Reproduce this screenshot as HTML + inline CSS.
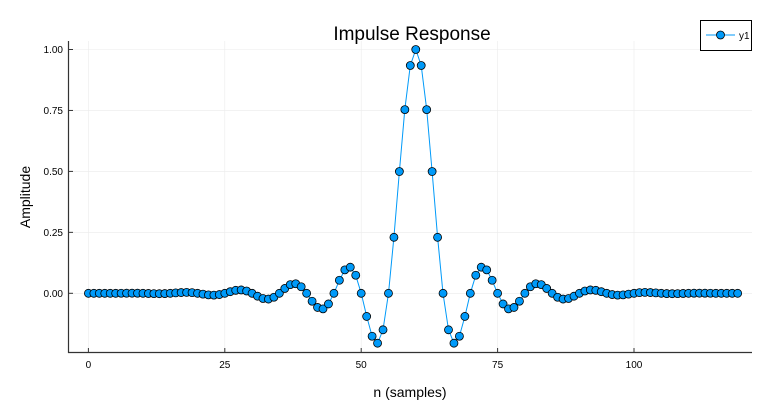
<!DOCTYPE html>
<html><head><meta charset="utf-8"><style>body{margin:0;background:#fff}svg{display:block}</style></head>
<body>
<svg id="s" width="758" height="400" xmlns="http://www.w3.org/2000/svg" font-family="Liberation Sans, sans-serif">
<rect width="758" height="400" fill="#fff"/>
<g id="grid" stroke="#ebebeb" stroke-width="0.6"></g>
<line x1="68.5" y1="41" x2="68.5" y2="353" stroke="#333" stroke-width="1.2"/>
<line x1="68" y1="352.5" x2="752" y2="352.5" stroke="#333" stroke-width="1.2"/>
<g id="ticks" stroke="#333" stroke-width="1"></g>
<g id="labels" font-size="10" fill="#000"></g>
<text x="412" y="40" font-size="19" text-anchor="middle">Impulse Response</text>
<text x="410" y="397" font-size="14" text-anchor="middle">n (samples)</text>
<text transform="translate(30,197) rotate(-90)" font-size="14" text-anchor="middle">Amplitude</text>
<polyline id="line" fill="none" stroke="#009af9" stroke-width="1"/>
<g id="pts" fill="#009af9" stroke="#000" stroke-width="0.8"></g>
<rect x="700.5" y="20.5" width="51" height="30" fill="#fff" stroke="#000" stroke-width="1"/>
<line x1="706" y1="35" x2="735" y2="35" stroke="#009af9" stroke-width="1"/>
<circle cx="720.5" cy="35" r="4" fill="#009af9" stroke="#000" stroke-width="0.8"/>
<text x="739" y="39" font-size="10">y1</text>
</svg>
<script>
var X=n=>88.4+n*5.456, Y=v=>293.3-v*243.8;
var g=document.getElementById('grid'),t=document.getElementById('ticks'),l=document.getElementById('labels'),NS='http://www.w3.org/2000/svg';
function el(p,tag,a,txt){var e=document.createElementNS(NS,tag);for(var k in a)e.setAttribute(k,a[k]);if(txt)e.textContent=txt;p.appendChild(e);}
[0,25,50,75,100].forEach(n=>{var x=X(n);el(g,'line',{x1:x,y1:41,x2:x,y2:352});el(t,'line',{x1:x,y1:352,x2:x,y2:348});el(l,'text',{x:x,y:368,'text-anchor':'middle'},String(n));});
[0,0.25,0.5,0.75,1].forEach(v=>{var y=Y(v);el(g,'line',{x1:68,y1:y,x2:752,y2:y});el(t,'line',{x1:68,y1:y,x2:73,y2:y});el(l,'text',{x:63,y:y+3.5,'text-anchor':'end'},v.toFixed(2));});
var pts=[],P=document.getElementById('pts');
for(var n=0;n<120;n++){var k=n-60,s=k==0?1:Math.sin(Math.PI*k/5)/(Math.PI*k/5);var c=2*Math.PI*n/120;var w=0.42-0.5*Math.cos(c)+0.08*Math.cos(2*c);var v=s*w;pts.push(X(n).toFixed(1)+','+Y(v).toFixed(1));el(P,'circle',{cx:X(n),cy:Y(v),r:4});}
document.getElementById('line').setAttribute('points',pts.join(' '));
</script>
</body></html>
